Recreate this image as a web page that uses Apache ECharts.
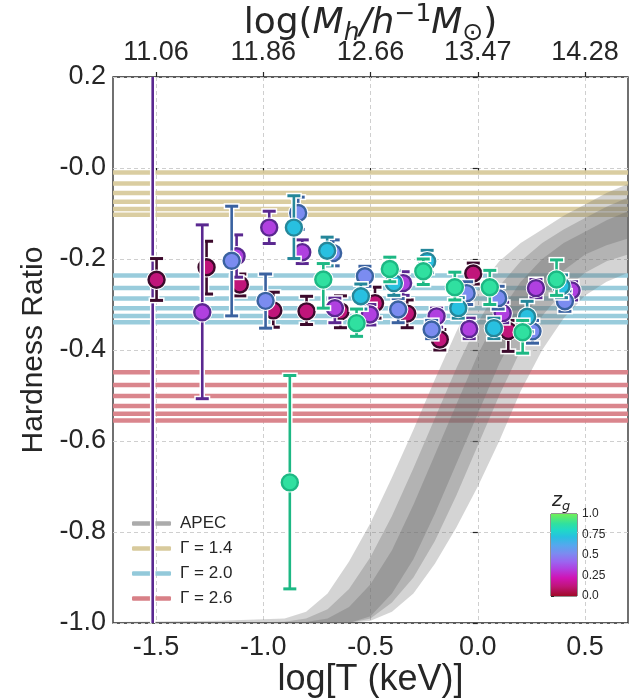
<!DOCTYPE html>
<html><head><meta charset="utf-8">
<script src="https://cdn.jsdelivr.net/npm/echarts@6/dist/echarts.min.js"></script>
<style>html,body{margin:0;padding:0;background:#fff}#c{width:637px;height:699px}</style>
</head><body><div id="c"></div>
<script>
// ---------------- data ----------------
const xTickValues = [-1.5, -1.0, -0.5, 0.0, 0.5];
const topTickLabels = ['11.06', '11.86', '12.66', '13.47', '14.28'];
const cbarTickValues = [0, 0.25, 0.5, 0.75, 1.0];
const cbarTickLabels = ['0.0', '0.25', '0.5', '0.75', '1.0'];

const gamma14 = [-0.010, -0.034, -0.055, -0.074, -0.090, -0.103];
const gamma20 = [-0.236, -0.264, -0.287, -0.308, -0.325, -0.339];
const gamma26 = [-0.449, -0.477, -0.501, -0.523, -0.540, -0.555];

// APEC model band (envelopes)
const apecX        = [-1.7, -1.2, -0.9, -0.8, -0.7, -0.6, -0.5, -0.4, -0.3, -0.2, -0.1, 0.0, 0.1, 0.2, 0.3, 0.4, 0.5, 0.6, 0.7];
const apecUpper0   = [-0.998, -0.995, -0.99, -0.975, -0.935, -0.865, -0.78, -0.68, -0.575, -0.465, -0.36, -0.265, -0.205, -0.165, -0.135, -0.105, -0.08, -0.055, -0.035];
const apecLower0   = [-1.0, -1.0, -1.0, -1.0, -1.0, -1.0, -0.995, -0.975, -0.935, -0.87, -0.79, -0.70, -0.60, -0.49, -0.40, -0.33, -0.28, -0.25, -0.23];
const apecUpper1   = [-1.0, -1.0, -0.997, -0.99, -0.97, -0.925, -0.855, -0.765, -0.66, -0.55, -0.44, -0.34, -0.26, -0.205, -0.165, -0.135, -0.11, -0.085, -0.065];
const apecLower1   = [-1.0, -1.0, -1.0, -1.0, -1.0, -1.0, -0.99, -0.955, -0.90, -0.82, -0.72, -0.61, -0.50, -0.40, -0.325, -0.27, -0.23, -0.205, -0.19];
const apecUpper2   = [-1.0, -1.0, -1.0, -0.998, -0.99, -0.965, -0.915, -0.84, -0.74, -0.63, -0.52, -0.41, -0.32, -0.25, -0.20, -0.165, -0.14, -0.115, -0.095];
const apecLower2   = [-1.0, -1.0, -1.0, -1.0, -1.0, -1.0, -0.985, -0.935, -0.86, -0.76, -0.65, -0.54, -0.43, -0.34, -0.27, -0.225, -0.19, -0.17, -0.155];

// galaxy-group measurements: log T, hardness ratio, lower / upper error limits, z_g
const ptLogT = [-1.515, -1.497, -1.264, -1.284, -1.147, -1.124, -1.109, -0.972, -0.989, -0.953,
                -0.857, -0.837, -0.818, -0.798, -0.876, -0.702, -0.674, -0.720, -0.666, -0.640,
                -0.526, -0.545, -0.479, -0.503, -0.565, -0.410, -0.391, -0.348, -0.371, -0.329,
                -0.236, -0.254, -0.192, -0.215, -0.177, -0.107, -0.091, -0.021, -0.052, -0.040,
                 0.056,  0.095,  0.116,  0.075,  0.142,  0.230,  0.255,  0.209,  0.271,  0.367,
                 0.390,  0.437,  0.406];
const ptHR   = [0.60, -0.2455, -0.218, -0.317, -0.204, -0.194, -0.256, -0.131, -0.292, -0.313,
                -0.131, -0.099, -0.185, -0.315, -0.691, -0.182, -0.187, -0.245, -0.308, -0.315,
                -0.238, -0.282, -0.297, -0.322, -0.341, -0.222, -0.253, -0.253, -0.311, -0.320,
                -0.205, -0.227, -0.326, -0.355, -0.377, -0.262, -0.308, -0.232, -0.275, -0.354,
                -0.262, -0.286, -0.319, -0.352, -0.358, -0.327, -0.359, -0.361, -0.264, -0.245,
                -0.260, -0.269, -0.293];
const ptLow  = [-1.5, -0.291, -0.277, -0.507, -0.325, -0.240, -0.281, -0.166, -0.352, -0.350,
                -0.199, -0.135, -0.210, -0.344, -0.925, -0.215, -0.215, -0.308, -0.340, -0.351,
                -0.260, -0.310, -0.330, -0.345, -0.370, -0.250, -0.280, -0.280, -0.340, -0.351,
                -0.230, -0.256, -0.350, -0.375, -0.400, -0.290, -0.330, -0.255, -0.300, -0.375,
                -0.300, -0.310, -0.340, -0.375, -0.403, -0.360, -0.385, -0.407, -0.285, -0.280,
                -0.285, -0.290, -0.315];
const ptHigh = [2.0, -0.199, -0.161, -0.125, -0.084, -0.147, -0.233, -0.095, -0.233, -0.273,
                -0.061, -0.064, -0.158, -0.282, -0.456, -0.152, -0.158, -0.210, -0.286, -0.281,
                -0.216, -0.255, -0.262, -0.300, -0.310, -0.196, -0.225, -0.228, -0.287, -0.290,
                -0.181, -0.200, -0.308, -0.335, -0.355, -0.229, -0.285, -0.209, -0.250, -0.330,
                -0.225, -0.260, -0.295, -0.330, -0.335, -0.293, -0.335, -0.335, -0.245, -0.202,
                -0.235, -0.250, -0.270];
const ptZg   = [0.33, 0.12, 0.12, 0.33, 0.52, 0.33, 0.12, 0.33, 0.52, 0.12,
                0.72, 0.52, 0.33, 0.12, 0.88, 0.72, 0.52, 0.88, 0.33, 0.12,
                0.52, 0.72, 0.12, 0.33, 0.88, 0.88, 0.72, 0.33, 0.52, 0.12,
                0.72, 0.88, 0.33, 0.52, 0.12, 0.88, 0.72, 0.12, 0.52, 0.33,
                0.88, 0.52, 0.33, 0.72, 0.12, 0.72, 0.52, 0.88, 0.33, 0.88,
                0.72, 0.33, 0.52];

// ---------------- colour maps ----------------
const fillStops = [[0.0,'#a00a28'],[0.12,'#c0157a'],[0.22,'#d014b4'],[0.33,'#b040e0'],[0.42,'#9a66f0'],
                   [0.52,'#7b8cf0'],[0.62,'#55a8ee'],[0.72,'#28c0e0'],[0.80,'#20d8c8'],[0.88,'#30e0a0'],[1.0,'#70f058']];
const edgeStops = [[0.0,'#3a0818'],[0.12,'#3c0a2c'],[0.33,'#5a2890'],[0.52,'#3a62a0'],[0.72,'#25879a'],[0.88,'#1db884'],[1.0,'#40c050']];
function hex2rgb(h){return [parseInt(h.substr(1,2),16),parseInt(h.substr(3,2),16),parseInt(h.substr(5,2),16)];}
function interp(stops, t){
  if (t <= stops[0][0]) return stops[0][1];
  for (let i = 1; i < stops.length; i++) {
    if (t <= stops[i][0]) {
      const a = stops[i-1], b = stops[i], f = (t - a[0]) / (b[0] - a[0]);
      const ca = hex2rgb(a[1]), cb = hex2rgb(b[1]);
      return 'rgb(' + ca.map((v,k)=>Math.round(v + (cb[k]-v)*f)).join(',') + ')';
    }
  }
  return stops[stops.length-1][1];
}

// ---------------- build series data ----------------
const ptData = ptLogT.map((x,i)=>[x, ptHR[i], ptLow[i], ptHigh[i], ptZg[i], i]);
ptData.sort((a,b)=> (a[4]-b[4]) || (a[5]-b[5]));
ptData.unshift(ptData.splice(ptData.findIndex(d=>d[5]===0),1)[0]); // long error bar drawn first

const FRAME = '#262626';
const FONT = '"Liberation Sans", Arial, sans-serif';
const MATH = '"DejaVu Sans", sans-serif';

function hlineSeries(name, vals, color){
  return vals.map(v => ({
    name: name, type: 'line', xAxisIndex: 0, yAxisIndex: 0, z: 1,
    data: [[-1.7, v], [0.7, v]], symbol: 'none', silent: true,
    lineStyle: {color: color, width: 4.5, opacity: 0.95},
    itemStyle: {color: color}
  }));
}

function bandRender(upper, lower, fill){
  return function(params, api){
    const pts = [];
    for (let i = 0; i < apecX.length; i++) pts.push(api.coord([apecX[i], upper[i]]));
    for (let i = apecX.length - 1; i >= 0; i--) pts.push(api.coord([apecX[i], lower[i]]));
    return {type: 'polygon', shape: {points: pts}, style: {fill: fill}};
  };
}

function pointRender(params, api){
  const x = api.value(0), y = api.value(1), lo = api.value(2), hi = api.value(3), zg = api.value(4);
  const cs = params.coordSys;
  const c = api.coord([x, y]);
  const pl = api.coord([x, lo]), ph = api.coord([x, hi]);
  const top = cs.y, bot = cs.y + cs.height;
  const loIn = pl[1] <= bot, hiIn = ph[1] >= top;
  const yl = Math.min(pl[1], bot), yh = Math.max(ph[1], top);
  const fill = interp(fillStops, zg), edge = interp(edgeStops, zg);
  const capHalf = 6.5;
  const ch = [];
  ch.push({type:'line', shape:{x1:c[0], y1:yl, x2:c[0], y2:yh}, style:{stroke:'#fff', lineWidth:5.5}});
  if (loIn) ch.push({type:'line', shape:{x1:c[0]-capHalf-1.5, y1:yl, x2:c[0]+capHalf+1.5, y2:yl}, style:{stroke:'#fff', lineWidth:6}});
  if (hiIn) ch.push({type:'line', shape:{x1:c[0]-capHalf-1.5, y1:yh, x2:c[0]+capHalf+1.5, y2:yh}, style:{stroke:'#fff', lineWidth:6}});
  ch.push({type:'line', shape:{x1:c[0], y1:yl, x2:c[0], y2:yh}, style:{stroke:edge, lineWidth:2.6}});
  if (loIn) ch.push({type:'line', shape:{x1:c[0]-capHalf, y1:yl, x2:c[0]+capHalf, y2:yl}, style:{stroke:edge, lineWidth:3}});
  if (hiIn) ch.push({type:'line', shape:{x1:c[0]-capHalf, y1:yh, x2:c[0]+capHalf, y2:yh}, style:{stroke:edge, lineWidth:3}});
  if (c[1] >= top && c[1] <= bot) {
    ch.push({type:'circle', shape:{cx:c[0], cy:c[1], r:10.2}, style:{fill:'#fff'}});
    ch.push({type:'circle', shape:{cx:c[0], cy:c[1], r:8.0}, style:{fill:fill, stroke:edge, lineWidth:2.4}});
  }
  return {type:'group', children: ch};
}

function cbarRender(params, api){
  const p0 = api.coord([0, 0]), p1 = api.coord([1, 1]);
  const stops = fillStops.map(s => ({offset: 1 - s[0], color: s[1]})).reverse();
  return {type:'rect', shape:{x:p0[0], y:p1[1], width:p1[0]-p0[0], height:p0[1]-p1[1]},
          style:{fill: new echarts.graphic.LinearGradient(0, 0, 0, 1, stops)}};
}

const chart = echarts.init(document.getElementById('c'), null, {renderer: 'canvas'});
const option = {
  animation: false,
  backgroundColor: '#ffffff',
  textStyle: {fontFamily: FONT},
  grid: [
    {left: 113, top: 77, width: 515, height: 546, show: true, borderColor: FRAME, borderWidth: 1.3,
     backgroundColor: 'transparent', containLabel: false, outerBoundsMode: 'none'},
    {left: 551, top: 514, width: 26, height: 82, show: true, borderColor: FRAME, borderWidth: 1,
     backgroundColor: 'transparent', outerBoundsMode: 'none'}
  ],
  xAxis: [
    {type: 'value', gridIndex: 0, position: 'bottom', min: -1.7, max: 0.7,
     name: 'log[T (keV)]', nameLocation: 'middle', nameGap: 39, nameMoveOverlap: false,
     nameTextStyle: {fontSize: 36, color: FRAME, fontFamily: FONT},
     axisLine: {show: false},
     axisTick: {show: true, inside: false, length: 5, lineStyle: {color: FRAME, width: 1.2}, customValues: xTickValues},
     axisLabel: {fontSize: 27, color: FRAME, margin: 11, customValues: xTickValues, formatter: v => v.toFixed(1)},
     splitLine: {show: true, lineStyle: {color: '#cfcfcf', type: [4, 3], width: 1}}},
    {type: 'value', gridIndex: 0, position: 'top', min: -1.7, max: 0.7,
     name: '{a|log(}{b|M}{s|h}{b|/h}{p|−1}{b|M}{s|⊙}{a|)}', nameLocation: 'middle', nameGap: 31, nameMoveOverlap: false,
     nameTextStyle: {rich: {
       a: {fontSize: 36, fontFamily: MATH, color: FRAME, lineHeight: 44},
       b: {fontSize: 36, fontFamily: MATH, fontStyle: 'italic', color: FRAME, lineHeight: 44},
       s: {fontSize: 25, fontFamily: MATH, fontStyle: 'italic', color: FRAME, lineHeight: 44, verticalAlign: 'bottom'},
       p: {fontSize: 25, fontFamily: MATH, color: FRAME, lineHeight: 44, verticalAlign: 'top'}
     }},
     axisLine: {show: false},
     axisTick: {show: true, inside: false, length: 5, lineStyle: {color: FRAME, width: 1.2}, customValues: xTickValues},
     axisLabel: {fontSize: 27, color: FRAME, margin: 11, customValues: xTickValues,
                 formatter: v => { const i = xTickValues.findIndex(t => Math.abs(t - v) < 1e-6); return i >= 0 ? topTickLabels[i] : ''; }},
     splitLine: {show: false}},
    {type: 'value', gridIndex: 1, min: 0, max: 1, show: false}
  ],
  yAxis: [
    {type: 'value', gridIndex: 0, min: -1.0, max: 0.2, interval: 0.2,
     name: 'Hardness Ratio', nameLocation: 'middle', nameGap: 57, nameRotate: 90,
     nameTextStyle: {fontSize: 30, color: FRAME, fontFamily: FONT},
     axisLine: {show: false},
     axisTick: {show: true, inside: false, length: 5, lineStyle: {color: FRAME, width: 1.2}},
     axisLabel: {fontSize: 27, color: FRAME, margin: 7, formatter: v => Math.abs(v) < 1e-9 ? '-0.0' : v.toFixed(1)},
     splitLine: {show: true, lineStyle: {color: '#cfcfcf', type: [4, 3], width: 1}}},
    {type: 'value', gridIndex: 1, min: 0, max: 1, position: 'right',
     axisLine: {show: false},
     axisTick: {show: true, inside: false, length: 3, lineStyle: {color: FRAME, width: 1}, customValues: cbarTickValues},
     axisLabel: {fontSize: 12, color: FRAME, margin: 5, customValues: cbarTickValues,
                 formatter: v => { const i = cbarTickValues.findIndex(t => Math.abs(t - v) < 1e-6); return i >= 0 ? cbarTickLabels[i] : ''; }},
     splitLine: {show: false}}
  ],
  legend: {
    orient: 'vertical', left: 127, top: 510, z: 1, itemGap: 8,
    itemWidth: 39, itemHeight: 4.5, selectedMode: false,
    textStyle: {fontSize: 17, color: FRAME, fontFamily: FONT, padding: [0, 0, 0, 4]},
    data: [
      {name: 'APEC', icon: 'roundRect', itemStyle: {color: '#ababab'}},
      {name: 'Γ = 1.4', icon: 'roundRect'},
      {name: 'Γ = 2.0', icon: 'roundRect'},
      {name: 'Γ = 2.6', icon: 'roundRect'}
    ]
  },
  graphic: [
    {type: 'text', left: 552, top: 492, z: 10, style: {
      text: '{z|z}{g|g}', rich: {
        z: {fontSize: 19, fontStyle: 'italic', fontFamily: MATH, fill: FRAME, lineHeight: 24},
        g: {fontSize: 13, fontStyle: 'italic', fontFamily: MATH, fill: FRAME, lineHeight: 24, verticalAlign: 'bottom'}
      }}}
  ],
  series: [
    ...hlineSeries('Γ = 1.4', gamma14, '#d8ca9c'),
    ...hlineSeries('Γ = 2.0', gamma20, '#93c9da'),
    ...hlineSeries('Γ = 2.6', gamma26, '#d88087'),
    {name: 'APEC', type: 'custom', xAxisIndex: 0, yAxisIndex: 0, z: 2, silent: true,
     itemStyle: {color: '#ababab'}, data: [[0, -0.5]], renderItem: bandRender(apecUpper0, apecLower0, 'rgba(112,112,112,0.3)')},
    {name: 'APEC', type: 'custom', xAxisIndex: 0, yAxisIndex: 0, z: 2, silent: true,
     itemStyle: {color: '#ababab'}, data: [[0, -0.5]], renderItem: bandRender(apecUpper1, apecLower1, 'rgba(112,112,112,0.33)')},
    {name: 'APEC', type: 'custom', xAxisIndex: 0, yAxisIndex: 0, z: 2, silent: true,
     itemStyle: {color: '#ababab'}, data: [[0, -0.5]], renderItem: bandRender(apecUpper2, apecLower2, 'rgba(112,112,112,0.36)')},
    {name: 'groups', type: 'custom', xAxisIndex: 0, yAxisIndex: 0, z: 3, silent: true,
     data: ptData, renderItem: pointRender, clip: true},
    {name: 'cbar', type: 'custom', xAxisIndex: 2, yAxisIndex: 1, z: 3, silent: true,
     data: [[0, 0]], renderItem: cbarRender}
  ]
};
chart.setOption(option);
</script></body></html>
